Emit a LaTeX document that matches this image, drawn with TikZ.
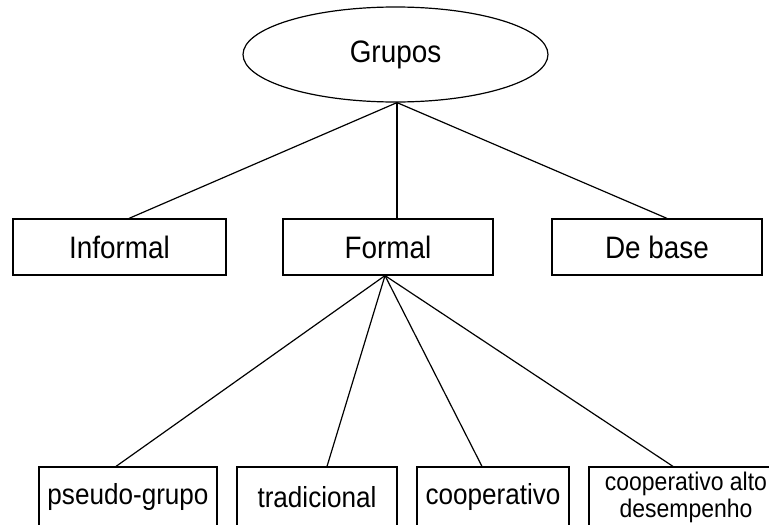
\documentclass[tikz,border=0pt]{standalone}
\usepackage{fontspec}
\setmainfont[FakeStretch=0.9]{Liberation Sans}
\usetikzlibrary{shapes.geometric}
\tikzset{
  box/.style={draw, line width=1.2pt, rectangle, inner sep=0pt, minimum height=56pt, font=\fontsize{31}{36}\selectfont},
  lowbox/.style={draw, line width=1.2pt, rectangle, inner sep=0pt, minimum height=60pt, font=\fontsize{29}{33}\selectfont},
  oval/.style={draw, line width=1.2pt, ellipse, inner sep=0pt, minimum width=305pt, minimum height=95pt, font=\fontsize{31}{36}\selectfont},
  link/.style={line width=1.2pt}
}
\begin{document}
\begin{tikzpicture}[x=1pt,y=-1pt]
\useasboundingbox (0,0) rectangle (769,525);
\clip (0,0) rectangle (769,525);
\node[oval] (g) at (395.5,54.5) {Grupos};
\node[box, minimum width=213pt] (inf) at (119.5,247) {Informal};
\node[box, minimum width=210pt] (for) at (388,247) {Formal};
\node[box, minimum width=210pt] (deb) at (657,247) {De base};
\node[lowbox, minimum width=178pt] (pse) at (128,497) {pseudo-grupo};
\node[lowbox, minimum width=160pt] (tra) at (317,497) {tradicional};
\node[lowbox, minimum width=152pt] (coo) at (493,497) {cooperativo};
\node[lowbox, minimum width=194pt, align=center, font=\fontsize{25.5}{27}\selectfont] (alt) at (686,497) {cooperativo alto\\desempenho};
\draw[link] ([xshift=1.5pt]g.south) -- ([xshift=9.5pt]inf.north);
\draw[link] ([xshift=1.5pt]g.south) -- ([xshift=9pt]for.north);
\draw[link] ([xshift=1.5pt]g.south) -- ([xshift=10pt]deb.north);
\draw[link] ([xshift=-3pt]for.south) -- ([xshift=-12pt]pse.north);
\draw[link] ([xshift=-3pt]for.south) -- ([xshift=10pt]tra.north);
\draw[link] ([xshift=-3pt]for.south) -- ([xshift=-11pt]coo.north);
\draw[link] ([xshift=-3pt]for.south) -- ([xshift=-13pt]alt.north);
\end{tikzpicture}
\end{document}
